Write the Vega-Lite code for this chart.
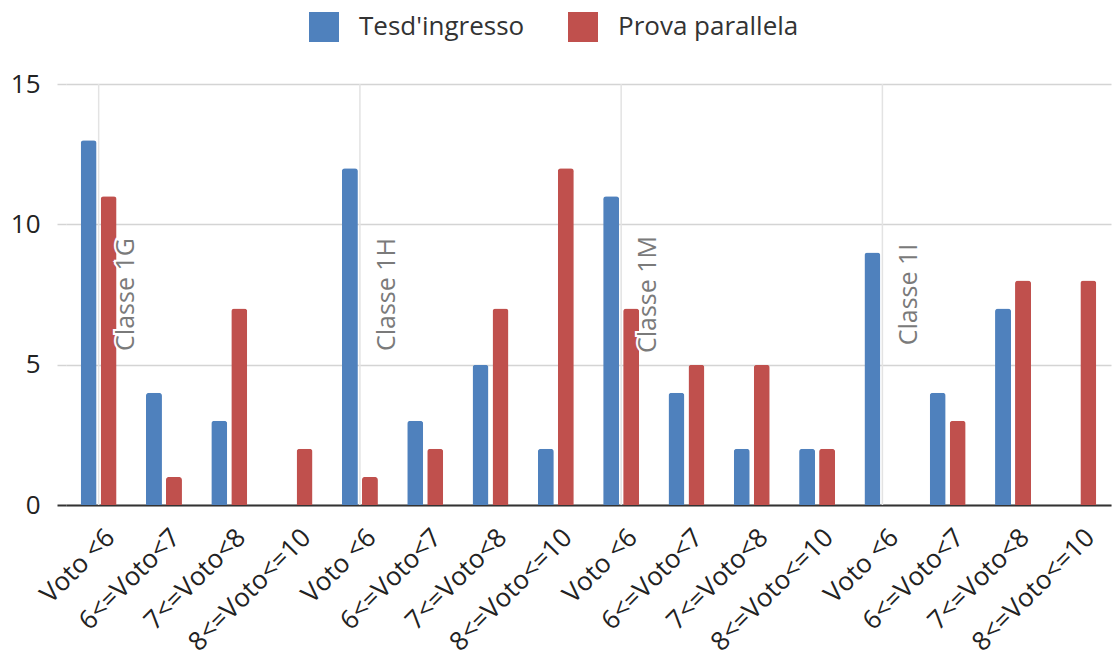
{
  "$schema": "https://vega.github.io/schema/vega-lite/v6.json",
  "autosize": "none",
  "width": 1045,
  "height": 421,
  "padding": {"left": 66, "top": 84, "right": 4, "bottom": 157},
  "background": "white",
  "config": {
    "view": {"stroke": null},
    "font": "Open Sans",
    "axis": {"labelFont": "Open Sans", "labelColor": "#222222"}
  },
  "datasets": {
    "bars": [
      {"key": "1G|Voto <6", "serie": "Tesd'ingresso", "value": 13},
      {"key": "1G|Voto <6", "serie": "Prova parallela", "value": 11},
      {"key": "1G|6<=Voto<7", "serie": "Tesd'ingresso", "value": 4},
      {"key": "1G|6<=Voto<7", "serie": "Prova parallela", "value": 1},
      {"key": "1G|7<=Voto<8", "serie": "Tesd'ingresso", "value": 3},
      {"key": "1G|7<=Voto<8", "serie": "Prova parallela", "value": 7},
      {"key": "1G|8<=Voto<=10", "serie": "Tesd'ingresso", "value": 0},
      {"key": "1G|8<=Voto<=10", "serie": "Prova parallela", "value": 2},
      {"key": "1H|Voto <6", "serie": "Tesd'ingresso", "value": 12},
      {"key": "1H|Voto <6", "serie": "Prova parallela", "value": 1},
      {"key": "1H|6<=Voto<7", "serie": "Tesd'ingresso", "value": 3},
      {"key": "1H|6<=Voto<7", "serie": "Prova parallela", "value": 2},
      {"key": "1H|7<=Voto<8", "serie": "Tesd'ingresso", "value": 5},
      {"key": "1H|7<=Voto<8", "serie": "Prova parallela", "value": 7},
      {"key": "1H|8<=Voto<=10", "serie": "Tesd'ingresso", "value": 2},
      {"key": "1H|8<=Voto<=10", "serie": "Prova parallela", "value": 12},
      {"key": "1M|Voto <6", "serie": "Tesd'ingresso", "value": 11},
      {"key": "1M|Voto <6", "serie": "Prova parallela", "value": 7},
      {"key": "1M|6<=Voto<7", "serie": "Tesd'ingresso", "value": 4},
      {"key": "1M|6<=Voto<7", "serie": "Prova parallela", "value": 5},
      {"key": "1M|7<=Voto<8", "serie": "Tesd'ingresso", "value": 2},
      {"key": "1M|7<=Voto<8", "serie": "Prova parallela", "value": 5},
      {"key": "1M|8<=Voto<=10", "serie": "Tesd'ingresso", "value": 2},
      {"key": "1M|8<=Voto<=10", "serie": "Prova parallela", "value": 2},
      {"key": "1I|Voto <6", "serie": "Tesd'ingresso", "value": 9},
      {"key": "1I|Voto <6", "serie": "Prova parallela", "value": 0},
      {"key": "1I|6<=Voto<7", "serie": "Tesd'ingresso", "value": 4},
      {"key": "1I|6<=Voto<7", "serie": "Prova parallela", "value": 3},
      {"key": "1I|7<=Voto<8", "serie": "Tesd'ingresso", "value": 7},
      {"key": "1I|7<=Voto<8", "serie": "Prova parallela", "value": 8},
      {"key": "1I|8<=Voto<=10", "serie": "Tesd'ingresso", "value": 0},
      {"key": "1I|8<=Voto<=10", "serie": "Prova parallela", "value": 8}
    ],
    "classes": [
      {"key": "1G|Voto <6", "label": "Classe 1G"},
      {"key": "1H|Voto <6", "label": "Classe 1H"},
      {"key": "1M|Voto <6", "label": "Classe 1M"},
      {"key": "1I|Voto <6", "label": "Classe 1I"}
    ]
  },
  "resolve": {"scale": {"x": "shared", "y": "shared"}},
  "layer": [
    {
      "data": {"name": "classes"},
      "mark": {"type": "rule", "color": "#e3e3e3", "strokeWidth": 1.5},
      "encoding": {
        "x": {"field": "key", "type": "nominal", "sort": null}
      }
    },
    {
      "data": {"name": "bars"},
      "mark": {"type": "bar", "cornerRadiusTopLeft": 3, "cornerRadiusTopRight": 3},
      "encoding": {
        "x": {
          "field": "key", "type": "nominal", "sort": null,
          "scale": {
            "type": "band", "paddingInner": 0.449, "paddingOuter": 0.2245,
            "domain": ["1G|Voto <6", "1G|6<=Voto<7", "1G|7<=Voto<8", "1G|8<=Voto<=10",
                       "1H|Voto <6", "1H|6<=Voto<7", "1H|7<=Voto<8", "1H|8<=Voto<=10",
                       "1M|Voto <6", "1M|6<=Voto<7", "1M|7<=Voto<8", "1M|8<=Voto<=10",
                       "1I|Voto <6", "1I|6<=Voto<7", "1I|7<=Voto<8", "1I|8<=Voto<=10"]
          },
          "axis": {
            "title": null,
            "labelExpr": "split(datum.label, '|')[1]",
            "labelAngle": -45,
            "labelAlign": "right",
            "labelBaseline": "middle",
            "labelFontSize": 26,
            "labelPadding": 28,
            "labelOffset": 12,
            "ticks": false,
            "domainColor": "#333333",
            "domainWidth": 2,
            "grid": false,
            "labelOverlap": false,
            "labelLimit": 300
          }
        },
        "xOffset": {
          "field": "serie", "type": "nominal",
          "sort": ["Tesd'ingresso", "Prova parallela"],
          "scale": {"paddingInner": 0.2, "paddingOuter": 0}
        },
        "y": {
          "field": "value", "type": "quantitative",
          "scale": {"domain": [0, 15], "nice": false},
          "axis": {
            "title": null,
            "values": [0, 5, 10, 15],
            "labelFontSize": 26,
            "labelPadding": 17,
            "tickSize": 9,
            "tickColor": {"condition": {"test": "datum.value === 0", "value": "#333333"}, "value": "#d4d4d4"},
            "tickWidth": {"condition": {"test": "datum.value === 0", "value": 2}, "value": 1.5},
            "gridColor": "#d4d4d4",
            "gridWidth": 1.5,
            "domain": false
          }
        },
        "color": {
          "field": "serie", "type": "nominal",
          "sort": ["Tesd'ingresso", "Prova parallela"],
          "scale": {"range": ["#4f81bd", "#c0504d"]},
          "legend": {
            "title": null,
            "orient": "none",
            "direction": "horizontal",
            "legendX": 243,
            "legendY": -72,
            "symbolType": "square",
            "symbolSize": 900,
            "symbolStrokeWidth": 0,
            "labelFontSize": 26,
            "labelColor": "#333333",
            "labelOffset": 20,
            "columnPadding": 43,
            "labelLimit": 300
          }
        }
      }
    },
    {
      "data": {"name": "classes"},
      "mark": {"type": "text", "angle": 270, "align": "center", "baseline": "middle", "dy": 27, "fontSize": 25, "stroke": "white", "strokeWidth": 4, "fill": "white"},
      "encoding": {
        "x": {"field": "key", "type": "nominal", "sort": null},
        "y": {"datum": 7.5},
        "text": {"field": "label"}
      }
    },
    {
      "data": {"name": "classes"},
      "mark": {"type": "text", "angle": 270, "align": "center", "baseline": "middle", "dy": 27, "fontSize": 25, "color": "#7a7a7a"},
      "encoding": {
        "x": {"field": "key", "type": "nominal", "sort": null},
        "y": {"datum": 7.5},
        "text": {"field": "label"}
      }
    }
  ]
}
